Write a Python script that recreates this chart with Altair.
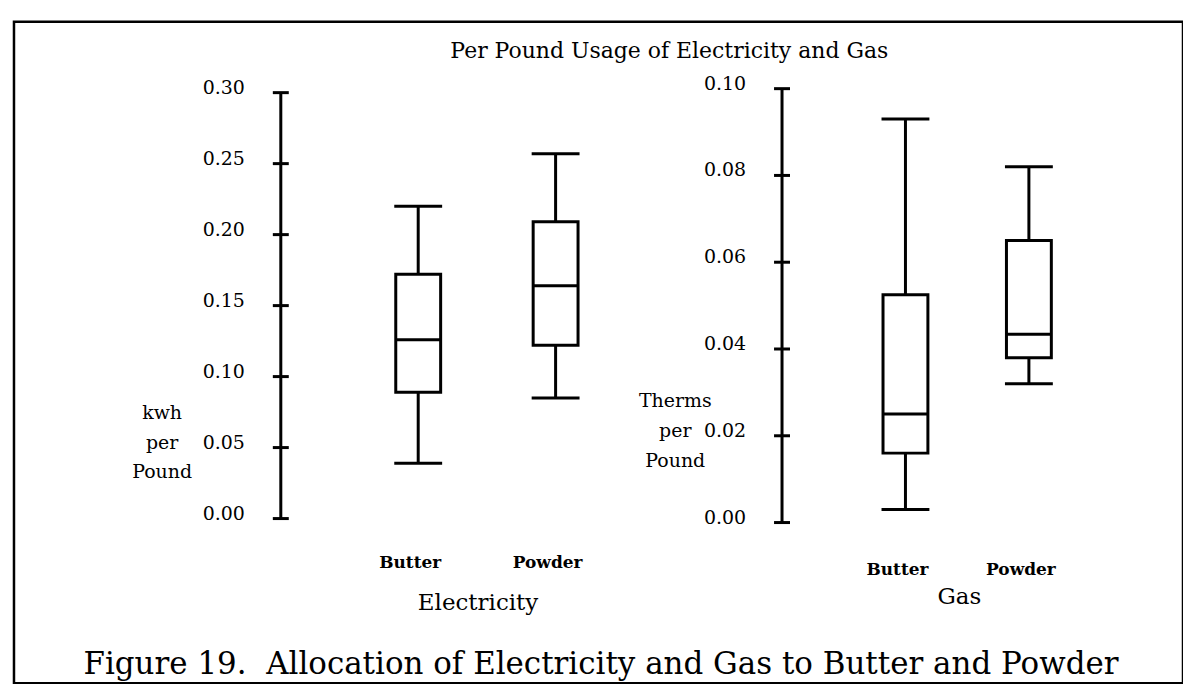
import altair as alt
import pandas as pd

FONT = "DejaVu Serif"

title_text = "Per Pound Usage of Electricity and Gas"
caption_text = "Figure 19.\u00a0 Allocation of Electricity and Gas to Butter and Powder"

categories = ["Butter", "Powder"]

# Electricity, kwh per pound
elec_min = [0.039, 0.085]
elec_q1 = [0.089, 0.122]
elec_median = [0.126, 0.164]
elec_q3 = [0.172, 0.209]
elec_max = [0.220, 0.257]

# Gas, therms per pound
gas_min = [0.003, 0.032]
gas_q1 = [0.016, 0.038]
gas_median = [0.025, 0.0434]
gas_q3 = [0.0525, 0.065]
gas_max = [0.093, 0.082]

elec_ticks = [0.00, 0.05, 0.10, 0.15, 0.20, 0.25, 0.30]
elec_tick_labels = ["0.00", "0.05", "0.10", "0.15", "0.20", "0.25", "0.30"]
gas_ticks = [0.00, 0.02, 0.04, 0.06, 0.08, 0.10]
gas_tick_labels = ["0.00", "0.02", "0.04", "0.06", "0.08", "0.10"]

elec_unit = "kwh\nper\nPound"
gas_unit = "Therms\nper\nPound"

AXIS_CAT = " "


def panel(group_name, unit_text, mins, q1s, meds, q3s, maxs, ticks, tick_labels,
          x_range, y_range, x_axis, unit_dx, cat_dy, group_dx, group_dy):
    xs = alt.Scale(type="point", domain=[AXIS_CAT] + categories, range=x_range, padding=0)
    ys = alt.Scale(domain=[ticks[0], ticks[-1]], range=y_range, nice=False, zero=False)
    X = alt.X("cat:N", scale=xs, axis=x_axis)

    def Y(f):
        return alt.Y(f"{f}:Q", scale=ys, axis=None)

    boxes = pd.DataFrame({"cat": categories, "mn": mins, "q1": q1s, "med": meds,
                          "q3": q3s, "mx": maxs})
    tickdf = pd.DataFrame({"cat": [AXIS_CAT] * len(ticks), "v": ticks, "label": tick_labels})
    axisdf = pd.DataFrame({"cat": [AXIS_CAT], "lo": [ticks[0]], "hi": [ticks[-1]]})
    unitdf = pd.DataFrame({"cat": [AXIS_CAT], "v": [ticks[1]], "t": [unit_text]})
    catdf = pd.DataFrame({"cat": categories, "v": [ticks[0]] * len(categories)})
    groupdf = pd.DataFrame({"cat": [categories[0]], "v": [ticks[0]], "t": [group_name]})

    axis_line = alt.Chart(axisdf).mark_rule(color="black", strokeWidth=3).encode(
        x=X, y=Y("lo"), y2="hi:Q")
    tick_marks = alt.Chart(tickdf).mark_tick(color="black", size=16, thickness=3,
                                             opacity=1).encode(x=X, y=Y("v"))
    tick_text = alt.Chart(tickdf).mark_text(
        align="right", baseline="middle", dx=-36, dy=-5, font=FONT, fontSize=19,
        color="black").encode(x=X, y=Y("v"), text="label:N")
    unit_text_mark = alt.Chart(unitdf).mark_text(
        align="center", baseline="middle", dx=unit_dx, dy=-35, font=FONT, fontSize=19,
        lineBreak="\n", lineHeight=30, color="black").encode(x=X, y=Y("v"), text="t:N")

    lower_whisker = alt.Chart(boxes).mark_rule(color="black", strokeWidth=3).encode(
        x=X, y=Y("mn"), y2="q1:Q")
    upper_whisker = alt.Chart(boxes).mark_rule(color="black", strokeWidth=3).encode(
        x=X, y=Y("q3"), y2="mx:Q")
    low_cap = alt.Chart(boxes).mark_tick(color="black", size=48, thickness=3,
                                         opacity=1).encode(x=X, y=Y("mn"))
    high_cap = alt.Chart(boxes).mark_tick(color="black", size=48, thickness=3,
                                          opacity=1).encode(x=X, y=Y("mx"))
    box = alt.Chart(boxes).mark_bar(fill="white", stroke="black", strokeWidth=3,
                                    size=45, opacity=1).encode(x=X, y=Y("q1"), y2="q3:Q")
    median = alt.Chart(boxes).mark_tick(color="black", size=45, thickness=3,
                                        opacity=1).encode(x=X, y=Y("med"))

    cat_text = alt.Chart(catdf).mark_text(
        align="center", baseline="middle", dx=-8, dy=cat_dy, font=FONT, fontSize=17,
        fontWeight="bold", color="black").encode(x=X, y=Y("v"), text="cat:N")
    group_text = alt.Chart(groupdf).mark_text(
        align="center", baseline="middle", dx=group_dx, dy=group_dy, font=FONT,
        fontSize=23, color="black").encode(x=X, y=Y("v"), text="t:N")

    return alt.layer(axis_line, tick_marks, tick_text, unit_text_mark,
                     lower_whisker, upper_whisker, low_cap, high_cap, box, median,
                     cat_text, group_text)


caption_axis = alt.Axis(labels=False, ticks=False, domain=False, grid=False,
                        title=caption_text, titleFont=FONT, titleFontSize=31,
                        titleFontWeight="normal", titleColor="black",
                        titleX=588, titleY=-10, titleAlign="center",
                        titleBaseline="alphabetic", titleAngle=0)

elec = panel("Electricity", elec_unit, elec_min, elec_q1, elec_median, elec_q3, elec_max,
             elec_ticks, elec_tick_labels, x_range=[267.5, 543], y_range=[498, 71],
             x_axis=caption_axis, unit_dx=-119, cat_dy=45, group_dx=60, group_dy=85)
gas = panel("Gas", gas_unit, gas_min, gas_q1, gas_median, gas_q3, gas_max,
            gas_ticks, gas_tick_labels, x_range=[770, 1017.5], y_range=[502, 67],
            x_axis=None, unit_dx=-107, cat_dy=48, group_dx=54, group_dy=75)

chart = alt.layer(elec, gas).resolve_scale(x="independent", y="independent").properties(
    width=1172, height=663,
    autosize=alt.AutoSizeParams(type="none"),
    padding={"left": 6, "top": 13, "right": 0, "bottom": 0},
    background="white",
    title=alt.TitleParams(title_text, font=FONT, fontSize=22, fontWeight="normal",
                          color="black", anchor="middle", offset=-58, dx=71,
                          baseline="alphabetic"),
).configure_view(stroke="black", strokeWidth=2.5)

chart.save("out.html", embed_options={"renderer": "svg", "actions": False})
